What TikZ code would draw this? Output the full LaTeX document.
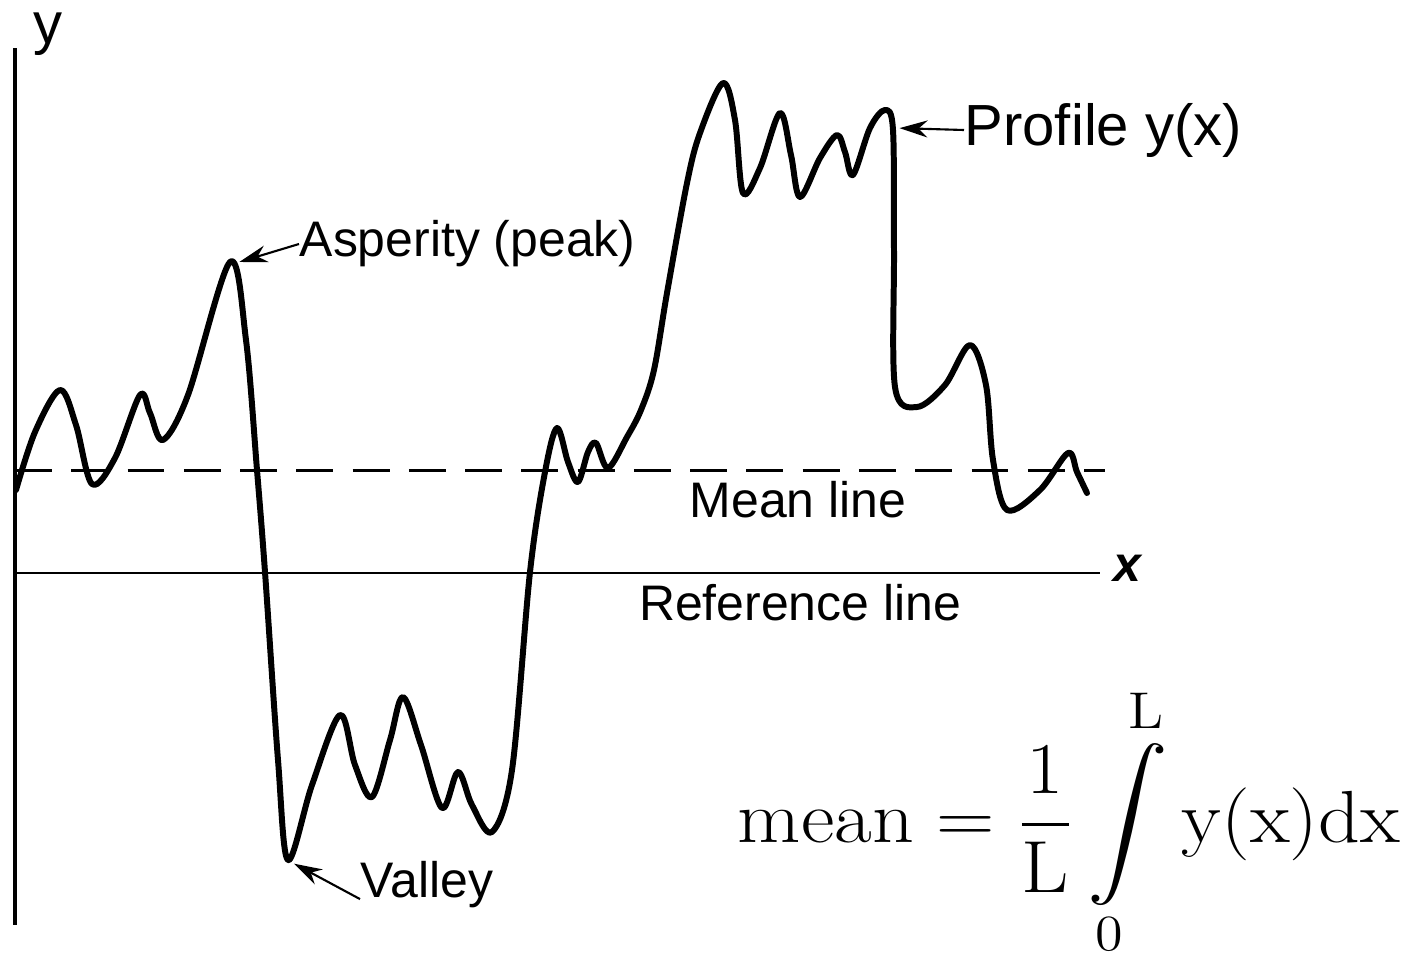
\documentclass[tikz,border=0pt]{standalone}
\usepackage{fontspec}
\usepackage{amsmath}
\usepackage{tikz}
\usetikzlibrary{arrows.meta,positioning}
\newfontfamily\roughSans{Liberation Sans}
\tikzset{
  roughCurve/.style={
    line width=1.7pt,
    line join=round,
    line cap=round
  },
  roughAxis/.style={
    line width=0.9pt
  },
  roughMean/.style={
    line width=0.85pt,
    dash pattern=on 10.5pt off 5.5pt
  },
  roughLabel/.style={
    font=\roughSans\fontsize{14.2}{16}\selectfont,
    inner sep=0pt
  },
  roughBigLabel/.style={
    font=\roughSans\fontsize{16.5}{19}\selectfont,
    inner sep=0pt
  },
  roughArrow/.style={
    -{Stealth[length=2.8mm,width=1.7mm]},
    line width=0.6pt,
    shorten >=1pt
  }
}

\begin{document}
\begin{tikzpicture}[x=0.01cm, y=-0.01cm]
\useasboundingbox (0,0) rectangle (1414,960);

% axes and lines
\draw[roughAxis] (15,48) -- (15,925);
\draw[roughAxis, line width=0.7pt] (15,573) -- (1100,573);
\draw[roughMean] (15,470) -- (1105,470);

% profile
\draw[roughCurve] plot[smooth, tension=0.55] coordinates {
  (16,490) (35,432) (60,390) (76,425) (92,484) (115,458) (140,395)
  (150,413) (163,440) (188,395) (230,262) (246,340) (257,470)
  (265,572) (278,760) (288,860) (312,785) (340,715) (355,765)
  (372,797) (390,740) (403,697) (421,745) (442,808) (458,772)
  (472,805) (492,832) (512,770) (530,572) (545,472) (557,428)
  (568,462) (578,482) (588,452) (596,443) (608,468) (627,437)
  (641,410) (654,370) (667,293) (687,183) (700,133) (723,83)
  (735,120) (743,193) (760,168) (780,113) (791,155) (800,197)
  (820,158) (837,135) (845,152) (853,175) (870,128) (885,110)
  (893,130) (894,250) (895,387) (917,407) (945,385) (970,345)
  (986,385) (993,460) (1007,510) (1040,490) (1068,453) (1077,472)
  (1087,493)};

\coordinate (peak) at (236,263);
\coordinate (valleyPt) at (291,862);
\coordinate (profilePt) at (896,128);

% labels
\node[roughBigLabel] (yLabel) at (48,34) {y};
\node[roughLabel, font=\roughSans\bfseries\itshape\fontsize{14.2}{16}\selectfont]
  (xLabel) at (1127,568) {x};
\node[roughBigLabel, anchor=west] (profile) at (964,130) {Profile y(x)};
\node[roughLabel, anchor=west] (asperity) at (299,244) {Asperity (peak)};
\node[roughLabel, anchor=west] (valley) at (360,885) {Valley};
\node[roughLabel] (mean) at (798,500) {Mean line};
\node[roughLabel] (reference) at (800,603) {Reference line};

\node[font=\fontsize{21}{25}\selectfont, inner sep=0pt, xscale=1.11,
  transform shape] (formula) at (1069,822)
  {$\displaystyle \mathrm{mean} = \frac{1}{\mathrm{L}}\int\limits_{0}^{\mathrm{L}} \mathrm{y(x)dx}$};

\draw[roughArrow] (asperity.west) -- (peak);
\draw[roughArrow] ([yshift=-4pt]valley.west) -- (valleyPt);
\draw[roughArrow] (profile.west) -- (profilePt);
\end{tikzpicture}
\end{document}
